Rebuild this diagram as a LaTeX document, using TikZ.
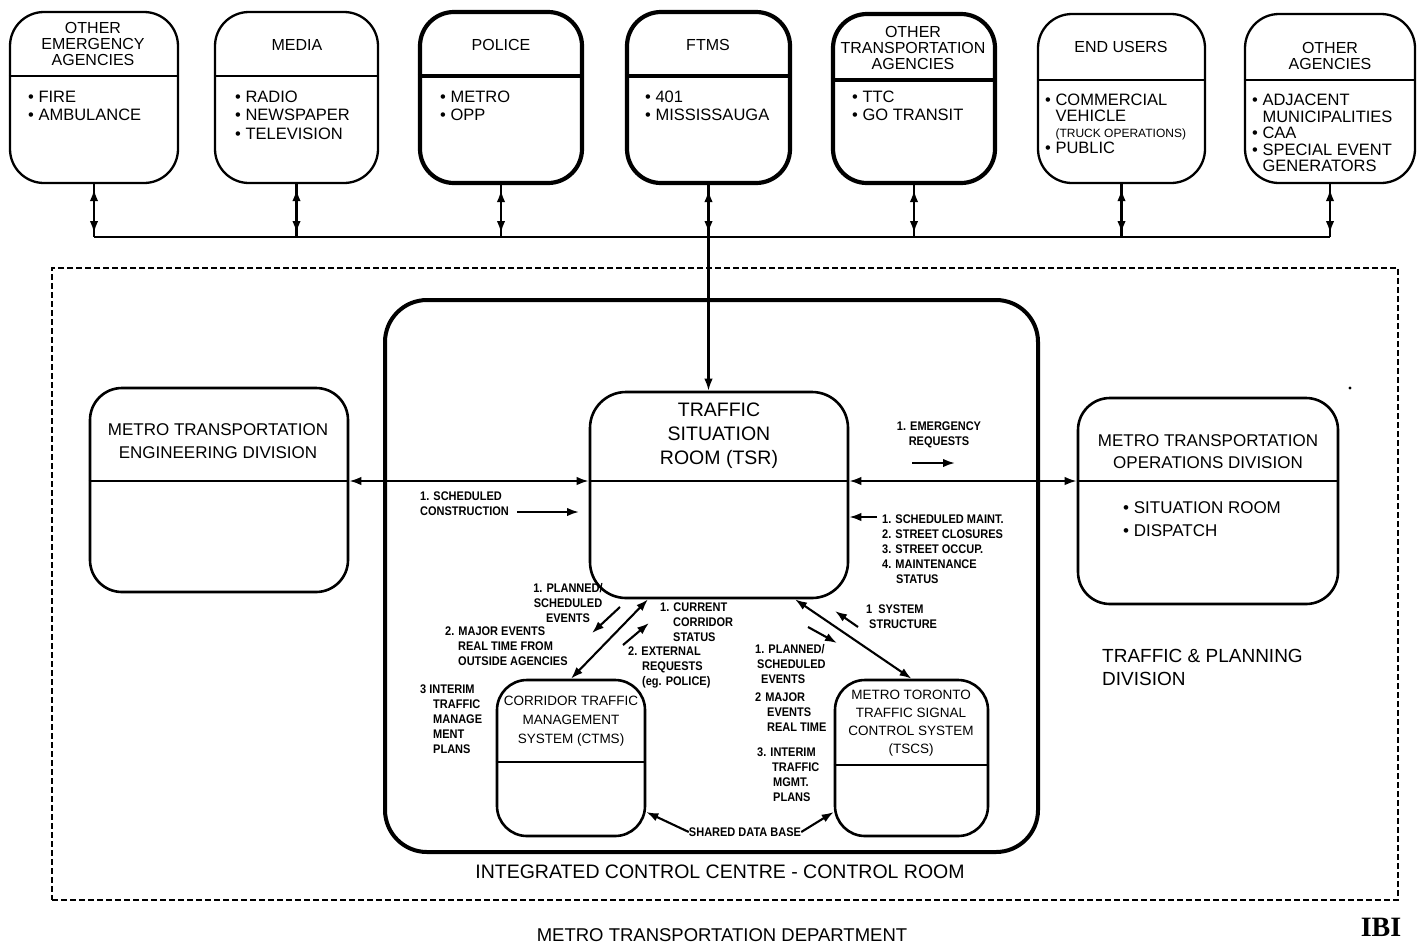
\documentclass[tikz,border=0pt]{standalone}
\usepackage{fontspec}
\setmainfont{Liberation Sans}
\newfontfamily\lblfont[FakeStretch=0.88]{Liberation Sans}
\newfontfamily\ibifont{Liberation Serif}
\usetikzlibrary{arrows.meta}

\begin{document}
\begin{tikzpicture}[x=1pt,y=-1pt,
  >={Latex[length=12pt,width=8.5pt]},
  box/.style={draw, line width=2.3pt, rounded corners=34pt, inner sep=0pt},
  heavybox/.style={box, line width=4.2pt},
  unitbox/.style={draw, line width=2.6pt, rounded corners=32pt, inner sep=0pt},
  div/.style={line width=2.3pt},
  heavydiv/.style={line width=4pt},
  wire/.style={line width=2.1pt},
  link/.style={wire, <->},
  flow/.style={wire, ->},
  ttl/.style={align=center, inner sep=0pt, font=\fontsize{16}{16}\selectfont},
  blt/.style={align=left, anchor=north west, inner sep=0pt, font=\fontsize{16.5}{18.2}\selectfont},
  unitttl/.style={align=center, inner sep=0pt, font=\fontsize{17}{22.5}\selectfont},
  lbl/.style={inner sep=0pt, font=\fontsize{12.5}{15}\lblfont\bfseries},
  big/.style={inner sep=0pt, font=\fontsize{19.5}{23}\selectfont}
]
\useasboundingbox (0,0) rectangle (1426,946);
\clip (0,0) rectangle (1426,946);

% ---------------- external agencies ----------------
\node[box,      minimum width=168, minimum height=171] (emerg)  at (94,97.5)    {};
\node[box,      minimum width=163, minimum height=171] (media)  at (296.5,97.5) {};
\node[heavybox, minimum width=162, minimum height=171] (police) at (501,97.5)   {};
\node[heavybox, minimum width=163, minimum height=171] (ftms)   at (708.5,97.5) {};
\node[heavybox, minimum width=162, minimum height=169] (othtr)  at (914,98.5)   {};
\node[box,      minimum width=167, minimum height=169] (endu)   at (1121.5,98.5){};
\node[box,      minimum width=170, minimum height=169] (othag)  at (1330,98.5)  {};

\draw[div]      (emerg.west |- 0,76)  -- (emerg.east |- 0,76);
\draw[div]      (media.west |- 0,76)  -- (media.east |- 0,76);
\draw[heavydiv] (police.west |- 0,76) -- (police.east |- 0,76);
\draw[heavydiv] (ftms.west |- 0,76)   -- (ftms.east |- 0,76);
\draw[heavydiv] (othtr.west |- 0,80)  -- (othtr.east |- 0,80);
\draw[div]      (endu.west |- 0,80)   -- (endu.east |- 0,80);
\draw[div]      (othag.west |- 0,80)  -- (othag.east |- 0,80);

\node[ttl] (emergT)  at (93,44)    {OTHER\\EMERGENCY\\AGENCIES};
\node[ttl] (mediaT)  at (297,45)   {MEDIA};
\node[ttl] (policeT) at (501,45)   {POLICE};
\node[ttl] (ftmsT)   at (708,45)   {FTMS};
\node[ttl] (othtrT)  at (913,47.5) {OTHER\\TRANSPORTATION\\AGENCIES};
\node[ttl] (enduT)   at (1121,47)  {END USERS};
\node[ttl] (othagT)  at (1330,56)  {OTHER\\AGENCIES};

\node[blt] (emergB)  at (28,91)   {• FIRE\\• AMBULANCE};
\node[blt] (mediaB)  at (235,91)  {• RADIO\\• NEWSPAPER\\• TELEVISION};
\node[blt] (policeB) at (440,91)  {• METRO\\• OPP};
\node[blt] (ftmsB)   at (645,91)  {• 401\\• MISSISSAUGA};
\node[blt] (othtrB)  at (852,91)  {• TTC\\• GO TRANSIT};
\node[blt, font=\fontsize{16.5}{16}\selectfont] (enduB) at (1045,94)
  {• COMMERCIAL\\\hphantom{• }VEHICLE\\\hphantom{• }{\fontsize{12}{16}\selectfont (TRUCK OPERATIONS)}\\• PUBLIC};
\node[blt, font=\fontsize{16.5}{16.5}\selectfont] (othagB) at (1252,94)
  {• ADJACENT\\\hphantom{• }MUNICIPALITIES\\• CAA\\• SPECIAL EVENT\\\hphantom{• }GENERATORS};

% common bus below the agencies
\coordinate (b1) at (emerg.south |- 0,237);
\coordinate (b2) at (media.south |- 0,237);
\coordinate (b3) at (police.south |- 0,237);
\coordinate (b4) at (ftms.south |- 0,237);
\coordinate (b5) at (othtr.south |- 0,237);
\coordinate (b6) at (endu.south |- 0,237);
\coordinate (b7) at (othag.south |- 0,237);
\draw[wire] (b1) -- (b7);
\foreach \n/\b in {emerg/b1, media/b2, police/b3, ftms/b4, othtr/b5, endu/b6, othag/b7}{
  \draw[wire] (\n.south) -- (\b);
  \draw[link] ([yshift=-5pt]\n.south) -- ([yshift=4pt]\b);
}

% ---------------- metro transportation department ----------------
\node[draw, line width=2.2pt, dash pattern=on 6pt off 3pt, minimum width=1346, minimum height=632, inner sep=0pt]
  (dept) at (725,584) {};
\node[draw, line width=4pt, rounded corners=42pt, minimum width=653, minimum height=552, inner sep=0pt]
  (icc) at (711.5,576) {};

\node[unitbox, minimum width=258, minimum height=204] (eng) at (219,490)   {};
\node[unitbox, minimum width=258, minimum height=206, rounded corners=36pt] (tsr) at (719,495) {};
\node[unitbox, minimum width=260, minimum height=206] (ops) at (1208,501)  {};
\node[unitbox, minimum width=148, minimum height=156, rounded corners=30pt] (ctms) at (571,758) {};
\node[unitbox, minimum width=153, minimum height=156, rounded corners=30pt] (tscs) at (911.5,758) {};

\draw[div] (eng.west |- 0,481)  -- (eng.east |- 0,481);
\draw[div] (tsr.west |- 0,481)  -- (tsr.east |- 0,481);
\draw[div] (ops.west |- 0,481)  -- (ops.east |- 0,481);
\draw[div] (ctms.west |- 0,762) -- (ctms.east |- 0,762);
\draw[div] (tscs.west |- 0,765) -- (tscs.east |- 0,765);

\node[unitttl] (engT) at (218,441) {METRO TRANSPORTATION\\ENGINEERING DIVISION};
\node[unitttl] (opsT) at (1208,451.5) {METRO TRANSPORTATION\\OPERATIONS DIVISION};
\node[unitttl, font=\fontsize{19.5}{24}\selectfont] (tsrT) at (719,436) {TRAFFIC\\SITUATION\\ROOM (TSR)};
\node[blt, font=\fontsize{17}{23}\selectfont] (opsB) at (1123,501) {• SITUATION ROOM\\• DISPATCH};
\node[unitttl, font=\fontsize{13.5}{19}\selectfont] (ctmsT) at (571,721) {CORRIDOR TRAFFIC\\MANAGEMENT\\SYSTEM (CTMS)};
\node[unitttl, font=\fontsize{13.5}{18}\selectfont] (tscsT) at (911,723) {METRO TORONTO\\TRAFFIC SIGNAL\\CONTROL SYSTEM\\(TSCS)};

% links between the units
\draw[flow] (b4) -- (b4 |- tsr.north);
\draw[link] (eng.east |- 0,481) -- (tsr.west |- 0,481);
\draw[link] (tsr.east |- 0,481) -- (ops.west |- 0,481);
\draw[link] (ctms.north) -- ([xshift=-71pt]tsr.south);
\draw[link] ([xshift=76pt]tsr.south) -- (tscs.north);

% information flow labels, left side
\node[lbl, anchor=north west, align=left] (schedC) at (420,492) {1. SCHEDULED\\CONSTRUCTION};
\coordinate (sc1) at (517,512);
\coordinate (sc2) at (579,512);
\draw[flow] (sc1) -- (sc2);

\node[lbl, align=center] (plannedL) at (568,603) {1. PLANNED/\\SCHEDULED\\EVENTS};
\coordinate (pl1) at (620,607);
\coordinate (pl2) at (592,633);
\draw[flow] (pl1) -- (pl2);

\node[lbl, anchor=north west, align=left] (majorL) at (445,627)
  {2. MAJOR EVENTS\\\hspace*{13pt}REAL TIME FROM\\\hspace*{13pt}OUTSIDE AGENCIES};

\node[lbl, anchor=north west, align=left] (currentL) at (660,603)
  {1. CURRENT\\\hspace*{13pt}CORRIDOR\\\hspace*{13pt}STATUS};

\node[lbl, anchor=north west, align=left] (externalL) at (628,647)
  {2. EXTERNAL\\\hspace*{14pt}REQUESTS\\\hspace*{14pt}(eg. POLICE)};
\coordinate (ex1) at (623,645);
\coordinate (ex2) at (649,623);
\draw[flow] (ex1) -- (ex2);

\node[lbl, anchor=north west, align=left] (interimL) at (420,685)
  {3 INTERIM\\\hspace*{13pt}TRAFFIC\\\hspace*{13pt}MANAGE\\\hspace*{13pt}MENT\\\hspace*{13pt}PLANS};

\node[lbl] (shared) at (745,832) {SHARED DATA BASE};
\draw[flow] (shared.west) -- ([yshift=-54pt]ctms.east);
\draw[flow] (shared.east) -- ([yshift=-54pt]tscs.west);

% information flow labels, right side
\node[lbl, align=center] (emergR) at (939,434.5) {1. EMERGENCY\\REQUESTS};
\coordinate (er1) at (912,463);
\coordinate (er2) at (955,463);
\draw[flow] (er1) -- (er2);

\node[lbl, anchor=north west, align=left] (maintL) at (882,515)
  {1. SCHEDULED MAINT.\\2. STREET CLOSURES\\3. STREET OCCUP.\\4. MAINTENANCE\\\hspace*{14pt}STATUS};
\coordinate (mt1) at (877,517);
\draw[flow] (mt1) -- ([yshift=-22pt]tsr.east);

\node[lbl, anchor=north west, align=left] (sysL) at (866,605) {1\hspace{6pt}SYSTEM\\\hspace*{3pt}STRUCTURE};
\coordinate (sy1) at (858,627);
\coordinate (sy2) at (835,611);
\draw[flow] (sy1) -- (sy2);

\coordinate (pr1) at (808,627);
\coordinate (pr2) at (837,643);
\draw[flow] (pr1) -- (pr2);

\node[lbl, anchor=north west, align=left] (plannedR) at (755,644)
  {1. PLANNED/\\\hspace*{2pt}SCHEDULED\\\hspace*{6pt}EVENTS};
\node[lbl, anchor=north west, align=left] (majorR) at (755,693)
  {2\hspace{4pt}MAJOR\\\hspace*{12pt}EVENTS\\\hspace*{12pt}REAL TIME};
\node[lbl, anchor=north west, align=left] (interimR) at (757,748)
  {3. INTERIM\\\hspace*{15pt}TRAFFIC\\\hspace*{16pt}MGMT.\\\hspace*{16pt}PLANS};

% captions
\node[big, anchor=north west, align=left, font=\fontsize{19}{23}\selectfont] (tpd) at (1102,649) {TRAFFIC \& PLANNING\\DIVISION};
\node[big] (iccT) at (720,872) {INTEGRATED CONTROL CENTRE - CONTROL ROOM};
\node[big, font=\fontsize{18.5}{22}\selectfont] (deptT) at (722,935) {METRO TRANSPORTATION DEPARTMENT};
\node[inner sep=0pt, anchor=base, font=\fontsize{28}{28}\ibifont\bfseries] (ibi) at (1381,936) {IBI};
\fill (1350,388) circle (1.6pt);
\end{tikzpicture}
\end{document}
